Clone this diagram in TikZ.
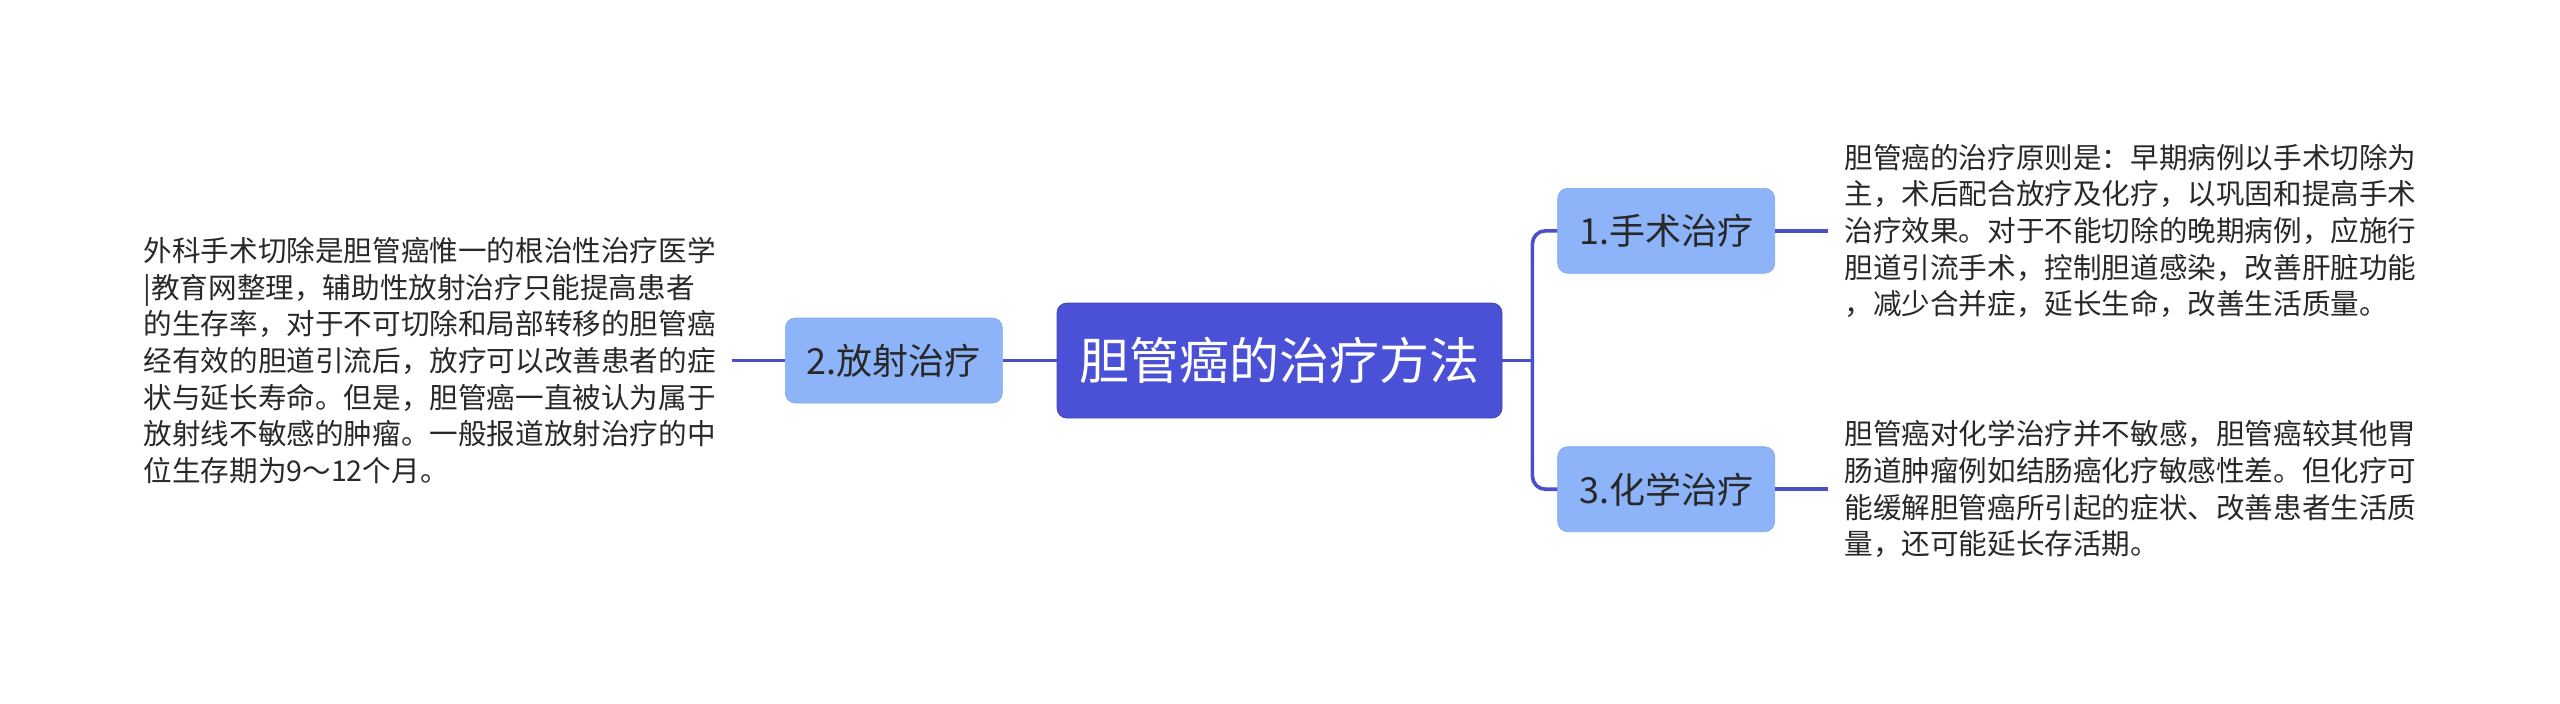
\documentclass[tikz,border=0pt]{standalone}
\usepackage{fontspec}
\setmainfont{Noto Sans CJK SC}
\usepackage{xcolor}
\usepackage{tikz}
\usetikzlibrary{positioning}
\definecolor{rootblue}{RGB}{74,81,214}
\definecolor{linkblue}{RGB}{74,79,206}
\definecolor{leafblue}{RGB}{141,180,248}
\definecolor{inkgray}{RGB}{40,40,40}

\begin{document}
\begin{tikzpicture}[
        x=0.5pt, y=-0.5pt,
        rootbox/.style={rectangle, rounded corners=5pt, draw=rootblue!85!black, fill=rootblue,
                    line width=0.4pt, minimum width=222.5pt, minimum height=57.5pt,
                    text=white, font=\fontsize{25pt}{30pt}\selectfont},
        topic/.style={rectangle, rounded corners=5pt, draw=leafblue!92!black, fill=leafblue,
                    line width=0.3pt, minimum width=108.5pt, minimum height=42.5pt,
                    text=inkgray, font=\fontsize{18pt}{22pt}\selectfont},
        note/.style={inner sep=8pt, align=left, text=inkgray,
                    font=\fontsize{14.3pt}{18.3pt}\selectfont},
        conn/.style={line width=1.8pt, linkblue}
      ]
        \useasboundingbox (0,0) rectangle (2560,703);
        \node[rootbox] (root) at (1279.5,360.5) {胆管癌的治疗方法};
        \node[topic, left=27pt of root] (fangshe) {2.放射治疗};
        \node[topic, above right=14.5pt and 27.5pt of root] (shoushu) {1.手术治疗};
        \node[topic, below right=14pt and 27.5pt of root] (huaxue) {3.化学治疗};
        \coordinate[right=15pt of root] (fork);
        \draw[conn] (root.east) -- (fork);
        \draw[conn, rounded corners=6.5pt] (shoushu.west) -| (fork) |- (huaxue.west);
        \draw[conn] (root.west) -- (fangshe.east);
        % notes
        \node[note, right=26.5pt of shoushu] (shoushutxt)
              {胆管癌的治疗原则是：早期病例以手术切除为\\
               主，术后配合放疗及化疗，以巩固和提高手术\\
               治疗效果。对于不能切除的晚期病例，应施行\\
               胆道引流手术，控制胆道感染，改善肝脏功能\\
               ，减少合并症，延长生命，改善生活质量。};
        \node[note, right=26.5pt of huaxue] (huaxuetxt)
              {胆管癌对化学治疗并不敏感，胆管癌较其他胃\\
               肠道肿瘤例如结肠癌化疗敏感性差。但化疗可\\
               能缓解胆管癌所引起的症状、改善患者生活质\\
               量，还可能延长存活期。};
        \node[note, left=26.5pt of fangshe] (fangshetxt)
              {外科手术切除是胆管癌惟一的根治性治疗医学\\
               |教育网整理，辅助性放射治疗只能提高患者\\
               的生存率，对于不可切除和局部转移的胆管癌\\
               经有效的胆道引流后，放疗可以改善患者的症\\
               状与延长寿命。但是，胆管癌一直被认为属于\\
               放射线不敏感的肿瘤。一般报道放射治疗的中\\
               位生存期为9～12个月。};
        \draw[conn] (shoushu.east) -- (shoushutxt.west);
        \draw[conn] (huaxue.east) -- (huaxuetxt.west);
        \draw[conn] (fangshe.west) -- (fangshetxt.east);
      \end{tikzpicture}
\end{document}
